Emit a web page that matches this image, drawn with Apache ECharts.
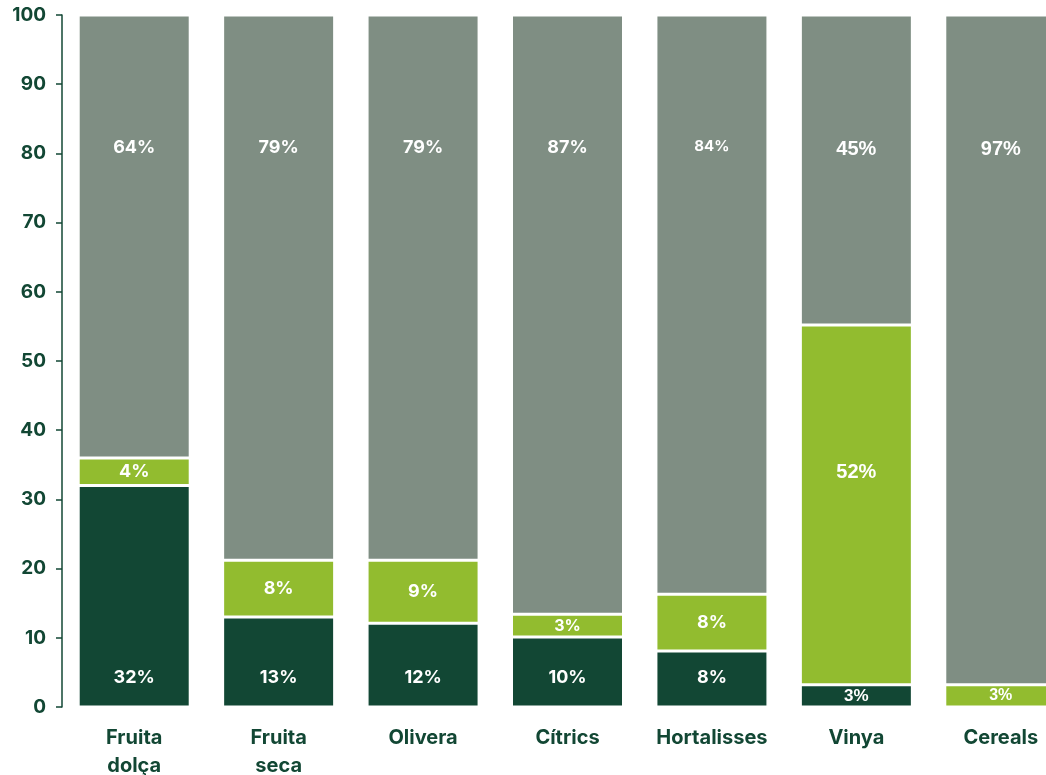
<!DOCTYPE html>
<html>
<head>
<meta charset="utf-8">
<script src="https://cdn.jsdelivr.net/npm/echarts@6/dist/echarts.min.js"></script>
<style>
html,body{margin:0;padding:0;background:#fff;}
#c{width:1046px;height:775px;}
</style>
</head>
<body>
<div id="c"></div>
<script>
const categories = ['Fruita\ndolça', 'Fruita\nseca', 'Olivera', 'Cítrics', 'Hortalisses', 'Vinya', 'Cereals'];
const darkValues  = [32, 13, 12.1, 10.1, 8.1, 3.2, 0];
const lightValues = [4, 8.2, 9.1, 3.3, 8.2, 52, 3.2];
const greyValues  = [64, 78.8, 78.8, 86.6, 83.7, 44.8, 96.8];
const yTicks = [0, 10, 20, 30, 40, 50, 60, 70, 80, 90, 100];

const FONT = 'Inter';
const DARK = '#124734';
const LIGHT = '#92bc2f';
const GREY = '#7f8e83';

function fmt(p){ return p.value > 0 ? Math.round(p.value) + '%' : ''; }

const darkData = darkValues.map((v, i) => {
  const small = v < 5;
  return {
    value: v,
    label: small
      ? { position: 'inside', fontSize: 17, fontFamily: 'Liberation Sans' }
      : { position: 'insideBottom', distance: 20 }
  };
});
const lightData = lightValues.map((v, i) => {
  if (v > 30) return { value: v, label: { position: 'inside', offset: [0, -32], fontFamily: 'Liberation Sans', fontSize: 20 } };
  if (v < 3.5) return { value: v, label: { position: 'inside', fontSize: 16, fontFamily: i === 6 ? 'Liberation Sans' : FONT } };
  return { value: v, label: { position: 'inside' } };
});
const greyData = greyValues.map((v, i) => ({
  value: v,
  label: (i === 4) ? { fontSize: 15 } : (i >= 5 ? { fontFamily: 'Liberation Sans', fontSize: 20 } : {})
}));

const baseLabel = { show: true, color: '#fff', fontWeight: 'bold', fontSize: 18, fontFamily: FONT, formatter: fmt };
const itemBorder = { borderColor: '#fff', borderWidth: 1.5 };

const chart = echarts.init(document.getElementById('c'), null, { renderer: 'canvas' });
chart.setOption({
  animation: false,
  backgroundColor: '#fff',
  grid: { left: 62, right: -27, top: 15, bottom: 68, containLabel: false, outerBoundsMode: 'none' },
  xAxis: {
    type: 'category',
    data: categories,
    axisLine: { show: false },
    axisTick: { show: false },
    axisLabel: { color: DARK, fontWeight: 'bold', fontSize: 20, fontFamily: FONT, margin: 17, lineHeight: 28, interval: 0 }
  },
  yAxis: {
    type: 'value',
    min: yTicks[0], max: yTicks[yTicks.length - 1], interval: 10,
    splitLine: { show: false },
    axisLine: { show: true, lineStyle: { color: DARK, width: 1.5 } },
    axisTick: { show: true, length: 6, lineStyle: { color: DARK, width: 1.5 } },
    axisLabel: { color: DARK, fontWeight: 'bold', fontSize: 19, fontFamily: FONT, margin: 16 }
  },
  series: [
    { type: 'bar', stack: 's', data: darkData, barWidth: 112, itemStyle: Object.assign({ color: DARK }, itemBorder), label: Object.assign({}, baseLabel) },
    { type: 'bar', stack: 's', data: lightData, barWidth: 112, itemStyle: Object.assign({ color: LIGHT }, itemBorder), label: Object.assign({}, baseLabel) },
    { type: 'bar', stack: 's', data: greyData, barWidth: 112, itemStyle: Object.assign({ color: GREY }, itemBorder), label: Object.assign({}, baseLabel, { position: 'insideTop', distance: 124 }) }
  ]
});
</script>
</body>
</html>
